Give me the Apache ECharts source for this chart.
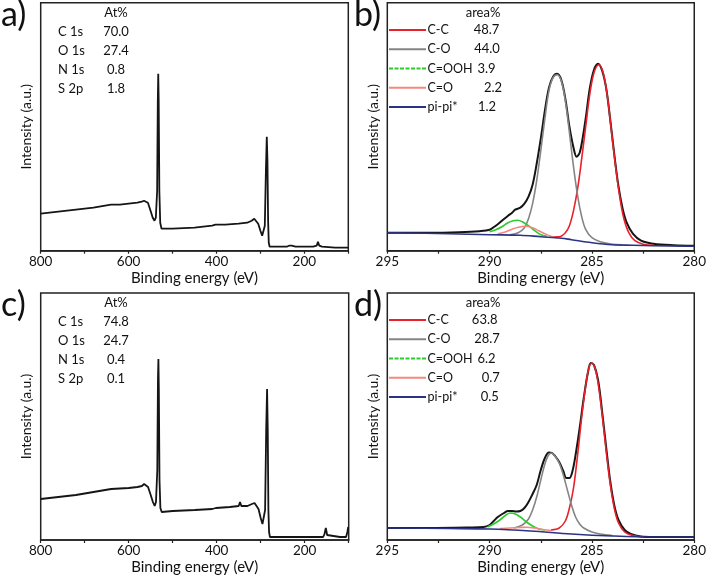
<!DOCTYPE html>
<html>
<head>
<meta charset="utf-8">
<script src="https://cdn.jsdelivr.net/npm/echarts@6/dist/echarts.min.js"></script>
<style>html,body{margin:0;padding:0;background:#fff;}#c{width:709px;height:580px;}</style>
</head>
<body>
<div id="c"></div>
<script>
// ---------- DATA ----------
// Survey spectra: [binding energy (eV), intensity (a.u.)]
const surveyA = [[800,37],[760,39],[720,41],[680,43],[640,46],[620,46],[600,47],[580,48],[570,49],[565,50],[561,52],[556,48],[550,40],[545,33],[541,30],[538,33],[535,60],[533.5,150],[532.5,177],[531.5,150],[530,60],[528,28],[525,22],[500,22],[450,23],[410,25],[402,26],[400,28],[398,25],[380,26],[350,27],[330,28],[320,30],[314,32],[310,31],[305,27],[300,20],[296,15],[293,16],[290,25],[287.5,80],[285.5,114],[284,90],[282.5,30],[281,8],[279,4],[260,4],[240,4],[235,5],[232,7],[229,5],[220,4],[200,4],[180,4],[172,5],[169,9],[166,5],[160,4],[130,3],[100,3]];
const surveyC = [[800,41],[760,43],[720,45],[680,48],[640,51],[600,52],[580,53],[570,54],[565,56],[561,57],[556,53],[550,45],[545,38],[541,34],[538,38],[535,70],[533.5,160],[532.5,181],[531.5,150],[530,60],[528,32],[525,28],[500,29],[450,30],[410,31],[402,32],[400,34],[398,31],[370,33],[350,34],[347,38],[344,34],[330,34],[320,36],[314,37],[310,36],[305,31],[300,22],[296,16],[293,18],[290,30],[287.5,110],[285.5,151],[284,110],[282.5,30],[281,8],[279,3],[260,3],[200,3],[170,3],[158,3],[155,6],[152,12],[149,5],[145,3],[120,3],[106,3],[103,8],[101,13],[100,13]];

// C 1s high-resolution fits, panel b
const envB = [[295,18],[293,18],[291.5,18.5],[290.5,19.5],[290,21],[289.7,25],[289.4,30],[289.1,35],[288.9,38],[288.75,41],[288.5,43],[288.3,47],[288.1,54],[287.9,66],[287.7,87],[287.5,112],[287.3,140],[287.1,163],[286.9,174],[286.7,177],[286.5,171],[286.3,152],[286.1,124],[285.9,103],[285.75,94],[285.6,98],[285.45,113],[285.3,133],[285.1,163],[284.9,181],[284.7,187],[284.5,180],[284.3,162],[284.1,130],[283.9,95],[283.7,64],[283.5,42],[283.3,28],[283,17],[282.6,10],[282,7],[281,5.5],[280,5]];
const ccB = [[287,14],[286.6,14],[286.3,18],[286.1,25],[285.9,40],[285.7,62],[285.5,92],[285.3,125],[285.1,157],[284.9,178],[284.66,186],[284.45,178],[284.25,155],[284.05,120],[283.85,85],[283.65,55],[283.45,33],[283.2,18],[282.9,10],[282.5,6.5],[282,5.5]];
const coB = [[289,16],[288.6,18],[288.3,23],[288.1,32],[287.9,47],[287.7,70],[287.5,100],[287.3,132],[287.1,160],[286.9,173],[286.7,176],[286.5,170],[286.3,150],[286.1,118],[285.9,84],[285.7,55],[285.5,34],[285.3,21],[285,13],[284.6,9],[284,6.5],[283.5,6]];
const coohB = [[290,19],[289.7,21],[289.4,24],[289.1,28],[288.85,30],[288.65,30.5],[288.4,29],[288.1,25],[287.8,20],[287.5,16],[287.2,14.5]];
const c_oB = [[289.6,17],[289.2,19],[288.9,21.5],[288.6,23.5],[288.24,24.5],[287.9,23],[287.6,20],[287.3,17],[287,14.5],[286.7,13]];
const bgB = [[295,18],[292,17],[290,16],[288.5,15.5],[287.5,14],[286.5,12.5],[286,11],[285,8],[284,6],[283,5.5],[282,5],[280,4.5]];

// C 1s high-resolution fits, panel d
const envD = [[295,12],[293,12],[291,12.5],[290.3,13],[290,15],[289.8,19],[289.6,23],[289.3,27],[289.1,29],[288.9,29],[288.7,28.5],[288.5,29],[288.3,32],[288.1,38],[287.9,46],[287.7,55],[287.5,70],[287.3,82],[287.1,87.5],[286.95,87],[286.8,84],[286.6,78],[286.4,69],[286.25,62],[286.1,62],[285.95,69],[285.8,85],[285.6,112],[285.4,142],[285.2,167],[285.05,177],[284.9,175],[284.7,160],[284.5,128],[284.3,92],[284.1,58],[283.9,34],[283.7,20],[283.4,10],[283.1,6],[282.6,3.5],[282,3],[280,3]];
const ccD = [[287,10],[286.6,12],[286.3,19],[286.1,32],[285.9,52],[285.7,85],[285.5,123],[285.3,155],[285.15,172],[285,177],[284.85,172],[284.7,157],[284.5,125],[284.3,88],[284.1,55],[283.9,31],[283.7,17],[283.4,8],[283,4.5],[282.5,3]];
const coD = [[288.8,12],[288.4,15],[288.1,21],[287.9,30],[287.7,43],[287.5,60],[287.3,76],[287.15,84],[287,87],[286.85,85],[286.6,77],[286.4,65],[286.2,50],[286,35],[285.8,23],[285.6,16],[285.4,12],[285,8],[284.6,6],[284,4.5]];
const coohD = [[290.1,13],[289.8,16],[289.5,20],[289.2,25],[289,27],[288.8,26.5],[288.5,23],[288.2,18],[287.9,14],[287.6,11],[287.3,10]];
const c_oD = [[289.5,11.5],[289,12],[288.5,12.5],[288.2,12.8],[287.8,12],[287.4,10.5],[287,9.5]];
const bgD = [[295,12],[292,11.5],[290,11],[288,9],[286,6],[284,4],[282,3],[280,3]];

// Table texts
const elements = ['C 1s','O 1s','N 1s','S 2p'];
const atA = ['70.0','27.4','0.8','1.8'];
const atC = ['74.8','24.7','0.4','0.1'];
const components = ['C-C','C-O','C=OOH','C=O','pi-pi*'];
const areaB = ['48.7','44.0','3.9','2.2','1.2'];
const areaD = ['63.8','28.7','6.2','0.7','0.5'];
const panelLabels = ['a)','b)','c)','d)'];
const surveyTicks = [800,600,400,200];
const hrTicks = [295,290,285,280];

// ---------- STYLE ----------
const FONT = 'Lato';
const compColors = ['#e8212b','#858585','#2ccc2c','#f4877f','#2b3384'];
const ENV = '#151515';

const grids = [
  {left:40.7, top:2.7, width:307.6, height:248},
  {left:387.3, top:2.7, width:307, height:248},
  {left:40.7, top:293, width:308, height:247},
  {left:387.3, top:293, width:307, height:247}
];
const yMax = [248,248,247,247];

function xAxisFor(i){
  const survey = (i===0 || i===2);
  return {
    gridIndex:i, type:'value', inverse:true,
    min: survey?100:280, max: survey?800:295, interval: survey?100:2.5,
    name:'Binding energy (eV)', nameLocation:'middle', nameGap:20,
    nameTextStyle:{fontFamily:FONT, fontSize:15, color:'#111'},
    axisLine:{show:true, lineStyle:{color:'#222', width:1.5}},
    axisTick:{show:true, inside:false, length:3, lineStyle:{color:'#222', width:1.2}},
    axisLabel:{show:true, margin:4, fontFamily:FONT, fontSize:13.5, color:'#111',
      showMinLabel:true, showMaxLabel:true, hideOverlap:false,
      formatter:function(v){ const list = survey?surveyTicks:hrTicks; return list.indexOf(v)>=0 ? String(v) : ''; }},
    splitLine:{show:false}
  };
}
function yAxisFor(i){
  return {
    gridIndex:i, type:'value', min:0, max:yMax[i],
    name:'Intensity (a.u.)', nameLocation:'middle', nameGap:7,
    nameTextStyle:{fontFamily:FONT, fontSize:14, color:'#111'},
    axisLine:{show:false}, axisTick:{show:false}, axisLabel:{show:false}, splitLine:{show:false}
  };
}
function line(data, i, color, w, z){
  return {type:'line', xAxisIndex:i, yAxisIndex:i, data:data, showSymbol:false, symbol:'none',
    smooth:0.35, z:z, animation:false,
    lineStyle:{color:color, width:w}};
}

const series = [
  {type:'line', xAxisIndex:0, yAxisIndex:0, data:surveyA, showSymbol:false, symbol:'none', animation:false, lineStyle:{color:ENV, width:1.8}},
  {type:'line', xAxisIndex:2, yAxisIndex:2, data:surveyC, showSymbol:false, symbol:'none', animation:false, lineStyle:{color:ENV, width:1.8}}
];
[[1,[ccB,coB,coohB,c_oB,bgB],envB],[3,[ccD,coD,coohD,c_oD,bgD],envD]].forEach(function(p){
  const i=p[0];
  series.push(line(p[2], i, ENV, 2, 2));
  p[1].forEach(function(d,k){ series.push(line(d, i, compColors[k], 1.6, 3 + (k===4?1:0))); });
});

// ---------- GRAPHIC (labels, tables, legends) ----------
const graphic = [];
const labelPos = [[1,-2],[354,-2],[1,288],[354,288]];
panelLabels.forEach(function(t,i){
  graphic.push({type:'text', left:labelPos[i][0], top:labelPos[i][1], style:{text:t, font:'normal 34px '+FONT, fill:'#111'}});
});
// At% tables
[[0,atA],[290,atC]].forEach(function(p){
  const dy=p[0];
  graphic.push({type:'text', x:116, y:13+dy, style:{text:'At%', font:'13px '+FONT, fill:'#111', align:'center', verticalAlign:'middle'}});
  elements.forEach(function(e,k){
    const y = 32 + k*18.8 + dy;
    graphic.push({type:'text', x:58, y:y, style:{text:e, font:'13px '+FONT, fill:'#111', align:'left', verticalAlign:'middle'}});
    graphic.push({type:'text', x:116, y:y, style:{text:p[1][k], font:'13px '+FONT, fill:'#111', align:'center', verticalAlign:'middle'}});
  });
});
// area% legends
const valX = {b:[486.5,487,486.5,493,487], d:[484.7,487,486.5,490.7,489.7]};
[[0,areaB,valX.b],[290,areaD,valX.d]].forEach(function(p){
  const dy=p[0];
  graphic.push({type:'text', x:483, y:13+dy, style:{text:'area%', font:'13px '+FONT, fill:'#111', align:'center', verticalAlign:'middle'}});
  components.forEach(function(c,k){
    const y = 30 + k*19.25 + dy;
    graphic.push({type:'line', shape:{x1:389, y1:y, x2:426, y2:y}, style:{stroke:compColors[k], lineWidth:2, lineDash: k===2?[4,1.5]:null}});
    graphic.push({type:'text', x:427.5, y:y, style:{text:c, font:'12.5px '+FONT, fill:'#111', align:'left', verticalAlign:'middle'}});
    graphic.push({type:'text', x:p[2][k], y:y, style:{text:p[1][k], font:'13px '+FONT, fill:'#111', align:'center', verticalAlign:'middle'}});
  });
});

const chart = echarts.init(document.getElementById('c'), null, {renderer:'canvas'});
chart.setOption({
  backgroundColor:'#ffffff',
  animation:false,
  grid: grids.map(function(g){ return Object.assign({show:true, borderColor:'#222', borderWidth:1.5, backgroundColor:'transparent', containLabel:false}, g); }),
  xAxis: [0,1,2,3].map(xAxisFor),
  yAxis: [0,1,2,3].map(yAxisFor),
  series: series,
  graphic: graphic
});
</script>
</body>
</html>
